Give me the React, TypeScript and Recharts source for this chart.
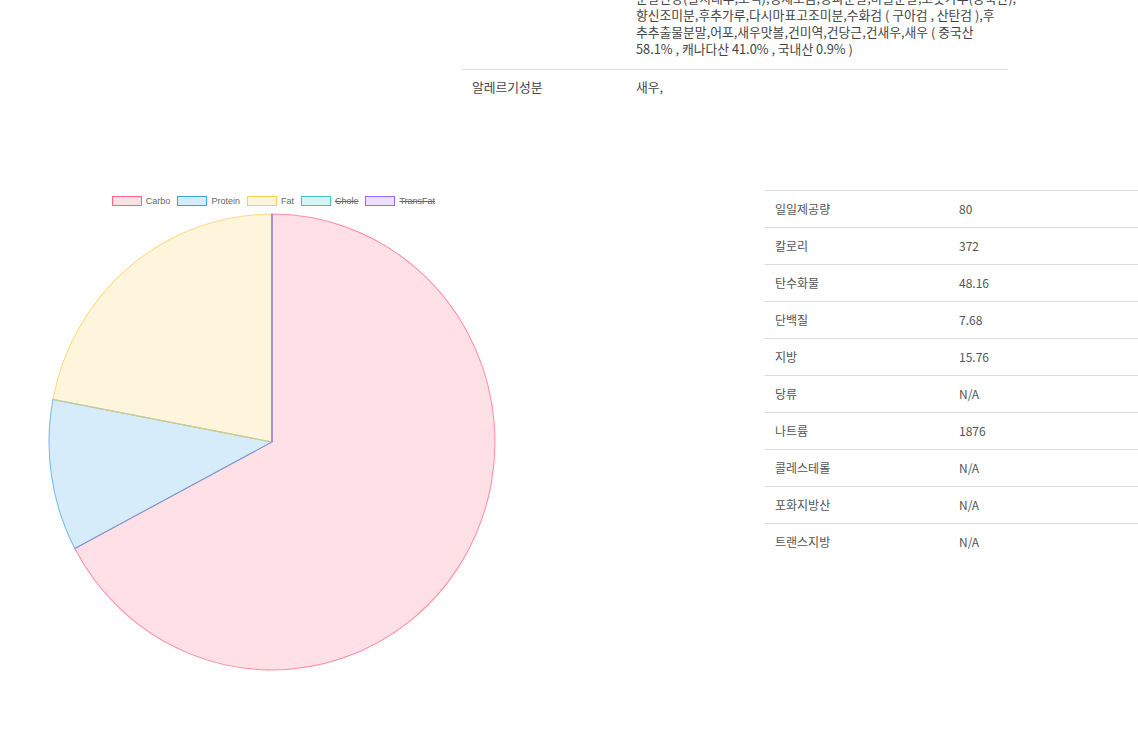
import React from "react";
import { PieChart, Pie, Cell, Legend, Sector } from "recharts";

const categories = ["Carbo", "Protein", "Fat", "Chole", "TransFat"];
const values = [48.16, 7.68, 15.76, 0, 0];
const hiddenInLegend = [false, false, false, true, true];
const fills = [
  "rgba(255,99,132,0.2)",
  "rgba(54,162,235,0.2)",
  "rgba(255,206,86,0.2)",
  "rgba(75,192,192,0.2)",
  "rgba(153,102,255,0.2)",
];
const strokes = [
  "rgb(255,99,132)",
  "rgb(54,162,235)",
  "rgb(255,206,86)",
  "rgb(75,192,192)",
  "rgb(153,102,255)",
];

const nutrientLabels = ["일일제공량", "칼로리", "탄수화물", "단백질", "지방", "당류", "나트륨", "콜레스테롤", "포화지방산", "트랜스지방"];
const nutrientValues = ["80", "372", "48.16", "7.68", "15.76", "N/A", "1876", "N/A", "N/A", "N/A"];

const ingredientLines = [
  "분말간장(탈지대두,소맥),정제소금,양파분말,마늘분말,고춧가루(중국산),",
  "향신조미분,후추가루,다시마표고조미분,수화검 ( 구아검 , 산탄검 ),후",
  "추추출물분말,어포,새우맛볼,건미역,건당근,건새우,새우 ( 중국산",
  "58.1% , 캐나다산 41.0% , 국내산 0.9% )",
];
const allergyLabel = "알레르기성분";
const allergyValue = "새우,";

const pieData = categories.map((name, i) => ({ name, value: values[i] }));

const font = '"Noto Sans CJK KR", "Noto Sans", sans-serif';

function renderLegend() {
  return (
    <div
      style={{
        display: "flex",
        justifyContent: "center",
        alignItems: "center",
        fontFamily: '"Liberation Sans", Arial, sans-serif',
        fontSize: 9,
        color: "#666",
        height: 12,
        paddingLeft: 3,
      }}
    >
      {categories.map((c, i) => (
        <div key={c} style={{ display: "flex", alignItems: "center", marginRight: i < categories.length - 1 ? 7 : 0 }}>
          <div
            style={{
              width: 28,
              height: 8,
              background: fills[i],
              border: `1px solid ${strokes[i]}`,
              marginRight: 4,
            }}
          />
          <span style={{ textDecoration: hiddenInLegend[i] ? "line-through" : "none" }}>{c}</span>
        </div>
      ))}
    </div>
  );
}

function sliceShape(props: any) {
  const { cx, cy, outerRadius, startAngle, endAngle, stroke } = props;
  if (Math.abs(endAngle - startAngle) < 1e-6) {
    const rad = (-startAngle * Math.PI) / 180;
    return (
      <line
        x1={cx}
        y1={cy}
        x2={cx + outerRadius * Math.cos(rad)}
        y2={cy + outerRadius * Math.sin(rad)}
        stroke={stroke}
        strokeWidth={1}
      />
    );
  }
  return <Sector {...props} />;
}

export default function App() {
  return (
    <div style={{ position: "absolute", left: 0, top: 0, width: 1138, height: 734, overflow: "hidden", background: "#fff" }}>
      <style>{`.recharts-pie { transform: scaleY(1.022); transform-origin: 272px 252px; }`}</style>
      {/* ingredients block */}
      <div
        style={{
          position: "absolute",
          left: 636,
          top: -11,
          fontFamily: font,
          fontSize: 12.8,
          lineHeight: "17px",
          color: "#444",
          whiteSpace: "nowrap",
        }}
      >
        {ingredientLines.map((l, i) => (
          <div key={i}>{l}</div>
        ))}
      </div>
      <div
        style={{
          position: "absolute",
          left: 462,
          top: 69,
          width: 546,
          height: 36,
          borderTop: "1px solid #ddd",
          fontFamily: font,
          fontSize: 12.8,
          lineHeight: "34px",
          color: "#444",
        }}
      >
        <span style={{ position: "absolute", left: 10 }}>{allergyLabel}</span>
        <span style={{ position: "absolute", left: 174 }}>{allergyValue}</span>
      </div>

      {/* nutrition table */}
      <div style={{ position: "absolute", left: 765, top: 190, width: 373 }}>
        {nutrientLabels.map((lab, i) => (
          <div
            key={lab}
            style={{
              position: "relative",
              height: 36,
              borderTop: "1px solid #ddd",
              fontFamily: font,
              fontSize: 12,
              lineHeight: "35px",
              color: "#555",
            }}
          >
            <span style={{ position: "absolute", left: 10 }}>{lab}</span>
            <span style={{ position: "absolute", left: 194 }}>{nutrientValues[i]}</span>
          </div>
        ))}
      </div>

      {/* pie chart */}
      <div style={{ position: "absolute", left: 0, top: 190 }}>
        <PieChart width={544} height={500} margin={{ top: 0, right: 0, bottom: 0, left: 0 }}>
          <Legend verticalAlign="top" content={renderLegend} wrapperStyle={{ top: 5, left: 0, width: 544 }} />
          <Pie
            data={pieData}
            dataKey="value"
            nameKey="name"
            cx={272}
            cy={240}
            outerRadius={223}
            startAngle={90}
            endAngle={-270}
            isAnimationActive={false}
            shape={sliceShape}
          >
            {pieData.map((d, i) => (
              <Cell key={d.name} fill={fills[i]} stroke={strokes[i]} strokeWidth={1} strokeOpacity={0.7} />
            ))}
          </Pie>
        </PieChart>
      </div>
    </div>
  );
}
